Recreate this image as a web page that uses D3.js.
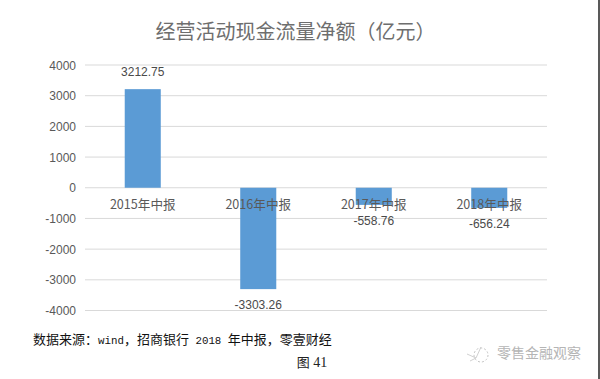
<!DOCTYPE html>
<html><head><meta charset="utf-8">
<script src="https://cdn.jsdelivr.net/npm/d3@7/dist/d3.min.js"></script>
<style>html,body{margin:0;padding:0;background:#fff}svg{display:block}text{text-spacing-trim:space-all;font-kerning:none}</style>
</head><body><svg id="c" width="600" height="379"></svg>
<script>
const categories = ["2015年中报","2016年中报","2017年中报","2018年中报"];
const values = [3212.75,-3303.26,-558.76,-656.24];
const valueLabels = ["3212.75","-3303.26","-558.76","-656.24"];
const yTicks = [4000,3000,2000,1000,0,-1000,-2000,-3000,-4000];
const titleText = "经营活动现金流量净额（亿元）";
const sourceText = "数据来源：wind，招商银行 2018 年中报，零壹财经";
const captionText = "图 41";
const watermarkText = "零售金融观察";

const sans = "'Noto Sans CJK SC','Liberation Sans',sans-serif";
const latin = "'Liberation Sans','Noto Sans CJK SC',sans-serif";
const svg = d3.select("#c");
const x = d3.scaleBand().domain(categories).range([85,547]).paddingInner(0.688).paddingOuter(0.344);
const y = d3.scaleLinear().domain([-4000,4000]).range([310.5,65]);

svg.append("g").selectAll("line").data(yTicks).join("line")
  .attr("x1",85).attr("x2",547)
  .attr("y1",d=>y(d)).attr("y2",d=>y(d))
  .attr("stroke","#d9d9d9").attr("stroke-width",1);

svg.append("g").selectAll("rect").data(values).join("rect")
  .attr("x",(d,i)=>x(categories[i])).attr("width",x.bandwidth())
  .attr("y",d=>y(Math.max(d,0)))
  .attr("height",d=>Math.abs(y(d)-y(0)))
  .attr("fill","#5b9bd5");

svg.append("g").selectAll("text").data(yTicks).join("text")
  .attr("x",76).attr("y",d=>y(d)+4.5).attr("text-anchor","end")
  .attr("font-family",latin).attr("font-size",12).attr("fill","#595959")
  .text(d=>d);

svg.append("g").selectAll("text").data(categories).join("text")
  .attr("x",d=>x(d)+x.bandwidth()/2).attr("y",208.5).attr("text-anchor","middle")
  .attr("font-family",sans).attr("font-size",12.6).attr("fill","#595959")
  .text(d=>d);

svg.append("g").selectAll("text").data(values).join("text")
  .attr("x",(d,i)=>x(categories[i])+x.bandwidth()/2)
  .attr("y",(d,i)=>y(d)+(d>0?-13:20)).attr("text-anchor","middle")
  .attr("font-family",latin).attr("font-size",12).attr("fill","#4a4a4a")
  .text((d,i)=>valueLabels[i]);

svg.append("text").attr("x",295.5).attr("y",38.5).attr("text-anchor","middle")
  .attr("font-family",sans).attr("font-size",20).attr("fill","#6e6e6e").text(titleText);

// Mixed CJK / mono-latin runs, as in the source caption
function mixed(sel, str, cjkSize, latinSize, latinFamily){
  sel.selectAll("tspan").data(str.match(/[\x20-\x7e]+|[^\x20-\x7e]+/g)).join("tspan")
    .attr("font-size",d=>/^[\x20-\x7e]/.test(d)?latinSize:cjkSize)
    .attr("font-family",d=>/^[\x20-\x7e]/.test(d)?latinFamily:"'Noto Sans CJK SC',sans-serif")
    .style("white-space","pre")
    .text(d=>d);
}
svg.append("text").attr("x",33).attr("y",344).attr("fill","#111")
  .call(mixed,sourceText,13,10.8,"'Liberation Mono',monospace");
svg.append("text").attr("x",312).attr("y",367).attr("text-anchor","middle").attr("fill","#222")
  .call(mixed,captionText,13,14,"'Liberation Serif',serif");

svg.append("text").attr("x",497).attr("y",358)
  .attr("font-family",sans).attr("font-size",14).attr("fill","#b5b5b5").text(watermarkText);
svg.append("circle").attr("cx",481).attr("cy",355).attr("r",7)
  .attr("fill","none").attr("stroke","#c4c4c4").attr("stroke-dasharray","2 2");
svg.append("path").attr("d","M467 354L476 358L481 347M476 358L470 361")
  .attr("fill","none").attr("stroke","#c4c4c4").attr("stroke-width",0.8);

svg.append("line").attr("x1",599).attr("x2",599).attr("y1",0).attr("y2",379).attr("stroke","#222").attr("stroke-width",1.5);
</script></body></html>
